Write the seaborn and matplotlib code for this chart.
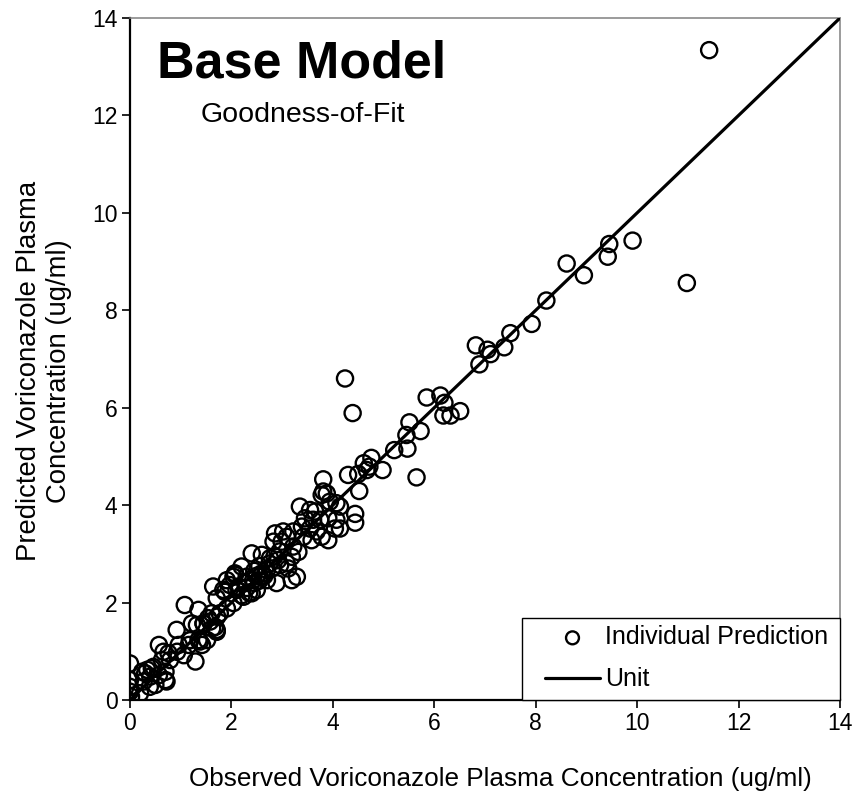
import matplotlib
matplotlib.use("Agg")
import matplotlib.pyplot as plt
from matplotlib.patches import Rectangle
import seaborn as sns
import pandas as pd

# Observed vs predicted voriconazole plasma concentrations (ug/ml)
observed = [
    11.42, 10.98, 9.91, 9.45, 9.42, 8.95, 8.61, 8.21, 7.92, 7.50, 7.38, 7.11, 7.05, 6.82, 6.89,
    5.85, 6.12, 6.20, 6.18, 6.32, 6.51, 5.51, 5.73, 5.45, 5.47, 5.21, 4.24, 4.39, 5.65,
    4.76, 4.61, 4.67, 4.72, 4.98, 4.30, 4.50, 3.81, 4.52, 4.44, 4.44,
    3.81, 3.88, 3.78, 3.94, 4.07, 4.14, 3.35, 3.55, 3.65, 3.45, 3.61, 3.75, 3.91, 4.07, 4.04, 4.14,
    3.39, 3.22, 3.55, 3.68, 3.78, 3.91, 3.42, 3.58,
    2.86, 3.02, 2.83, 2.99, 3.09, 3.22, 3.32, 3.19, 2.40, 2.60, 2.76, 2.92, 3.09, 3.29, 3.19, 2.89, 2.70,
    1.91, 2.04, 2.14, 2.27, 2.43, 2.50, 2.20, 2.30, 2.56, 2.70, 3.12, 2.96, 2.07, 1.84, 2.10, 2.24, 2.40,
    2.04, 1.91, 1.77, 1.61, 1.08, 1.35, 0.92, 1.64, 1.71, 1.97, 1.87, 2.07, 1.45, 1.58, 1.71, 1.68,
    1.18, 1.38, 0.00, 0.00, 0.00, 0.00, 0.02, 0.24, 0.34, 0.43, 0.40, 0.57, 0.27, 0.50, 0.70, 0.70,
    0.57, 0.66, 0.76, 0.63, 0.79, 0.93, 0.96, 1.06, 1.16, 1.19, 1.29, 1.42, 1.35, 1.52,
    1.22, 1.32, 1.45, 1.62, 1.72, 1.71, 1.54, 0.46, 0.30, 0.20, 0.39, 0.72,
    2.30, 2.45, 2.55, 2.35, 2.60, 2.50, 2.65, 2.80, 2.20, 2.45, 2.75, 2.85, 2.95, 2.55,
]
predicted = [
    13.34, 8.56, 9.43, 9.36, 9.10, 8.72, 8.96, 8.20, 7.72, 7.53, 7.24, 7.10, 7.19, 7.28, 6.89,
    6.21, 6.25, 6.10, 5.84, 5.84, 5.93, 5.70, 5.52, 5.44, 5.16, 5.13, 6.60, 5.89, 4.57,
    4.97, 4.86, 4.72, 4.79, 4.72, 4.62, 4.64, 4.53, 4.29, 3.82, 3.64,
    4.28, 4.24, 4.21, 4.07, 4.04, 3.97, 3.97, 3.90, 3.87, 3.73, 3.70, 3.70, 3.73, 3.70, 3.52, 3.52,
    3.56, 3.46, 3.52, 3.46, 3.35, 3.28, 3.35, 3.28,
    3.42, 3.46, 3.25, 3.25, 3.35, 3.15, 3.04, 2.94, 3.01, 2.98, 2.91, 2.87, 2.81, 2.53, 2.46, 2.40, 2.46,
    2.46, 2.53, 2.33, 2.40, 2.46, 2.26, 2.74, 2.53, 2.53, 2.67, 2.70, 2.77, 2.60, 2.26, 2.26, 2.12, 2.19,
    1.99, 1.88, 1.78, 1.78, 1.95, 1.85, 1.44, 2.33, 2.09, 2.36, 2.22, 2.57, 1.57, 1.61, 1.44, 1.50,
    1.23, 1.20, 0.75, 0.41, 0.27, 0.17, 0.07, 0.58, 0.62, 0.65, 0.48, 0.51, 0.38, 0.31, 0.41, 0.58,
    1.13, 0.99, 0.96, 0.82, 0.82, 0.99, 1.13, 0.92, 1.13, 1.23, 0.79, 1.13, 1.23, 1.23,
    1.57, 1.54, 1.57, 1.47, 1.71, 1.40, 1.68, 0.68, 0.55, 0.14, 0.27, 0.38,
    2.30, 2.40, 2.45, 2.20, 2.60, 2.55, 2.55, 2.70, 2.15, 2.65, 2.80, 2.95, 3.05, 2.75,
]
unit_line = [0, 14]
x_ticks = [0, 2, 4, 6, 8, 10, 12, 14]
y_ticks = [0, 2, 4, 6, 8, 10, 12, 14]

df = pd.DataFrame({"observed": observed, "predicted": predicted})
df_unit = pd.DataFrame({"x": unit_line, "y": unit_line})

sns.set_style("ticks")
plt.rcParams["font.family"] = ["Liberation Sans", "DejaVu Sans"]
plt.rcParams["text.color"] = "black"
plt.rcParams["axes.labelcolor"] = "black"
plt.rcParams["xtick.color"] = "black"
plt.rcParams["ytick.color"] = "black"

fig = plt.figure(figsize=(8.55, 7.97), dpi=100)
ax = fig.add_axes([130 / 855, 97 / 797, 710 / 855, 682 / 797])

sns.scatterplot(data=df, x="observed", y="predicted", ax=ax, marker="o",
                s=135, facecolors="none", edgecolor="black", linewidth=1.7,
                label="Individual Prediction", zorder=3)
ax.collections[0].set_facecolor("none")
ax.collections[0].set_edgecolor("black")
sns.lineplot(data=df_unit, x="x", y="y", ax=ax, color="black", linewidth=2.3,
             label="Unit", zorder=4)

ax.set_xlim(0, 14)
ax.set_ylim(0, 14)
ax.set_xticks(x_ticks)
ax.set_yticks(y_ticks)
ax.tick_params(axis="both", direction="out", length=6, width=1.2, labelsize=16.5,
               colors="black", pad=3)

for side in ["left", "bottom"]:
    ax.spines[side].set_color("black")
    ax.spines[side].set_linewidth(1.6)
for side in ["top", "right"]:
    ax.spines[side].set_visible(True)
    ax.spines[side].set_color("#808080")
    ax.spines[side].set_linewidth(1.1)

ax.set_xlabel("Observed Voriconazole Plasma Concentration (ug/ml)", fontsize=18.8,
              color="black")
ax.set_ylabel("Predicted Voriconazole Plasma\nConcentration (ug/ml)", fontsize=19.8,
              multialignment="center", color="black")
ax.xaxis.set_label_coords(0.521, -0.098)
ax.yaxis.set_label_coords(-0.082, 0.482)

ax.text(0.038, 0.933, "Base Model", transform=ax.transAxes, fontsize=37.5,
        fontweight="bold", ha="left", va="center", color="black")
ax.text(0.099, 0.858, "Goodness-of-Fit", transform=ax.transAxes, fontsize=20.5,
        ha="left", va="center", color="black")

# legend box frame
ax.add_patch(Rectangle((0.552, 0.0), 0.448, 0.120, transform=ax.transAxes,
                       facecolor="white", edgecolor="black", linewidth=1.0,
                       zorder=5, clip_on=False))
leg = ax.legend(loc="center left", bbox_to_anchor=(0.5845, 0.061), borderaxespad=0,
                frameon=False, fontsize=18, markerscale=0.8, handlelength=2.2,
                handletextpad=0.2, borderpad=0, labelspacing=0.72)
leg.set_zorder(6)
for t in leg.get_texts():
    t.set_color("black")

fig.savefig("out.png", dpi=100)
